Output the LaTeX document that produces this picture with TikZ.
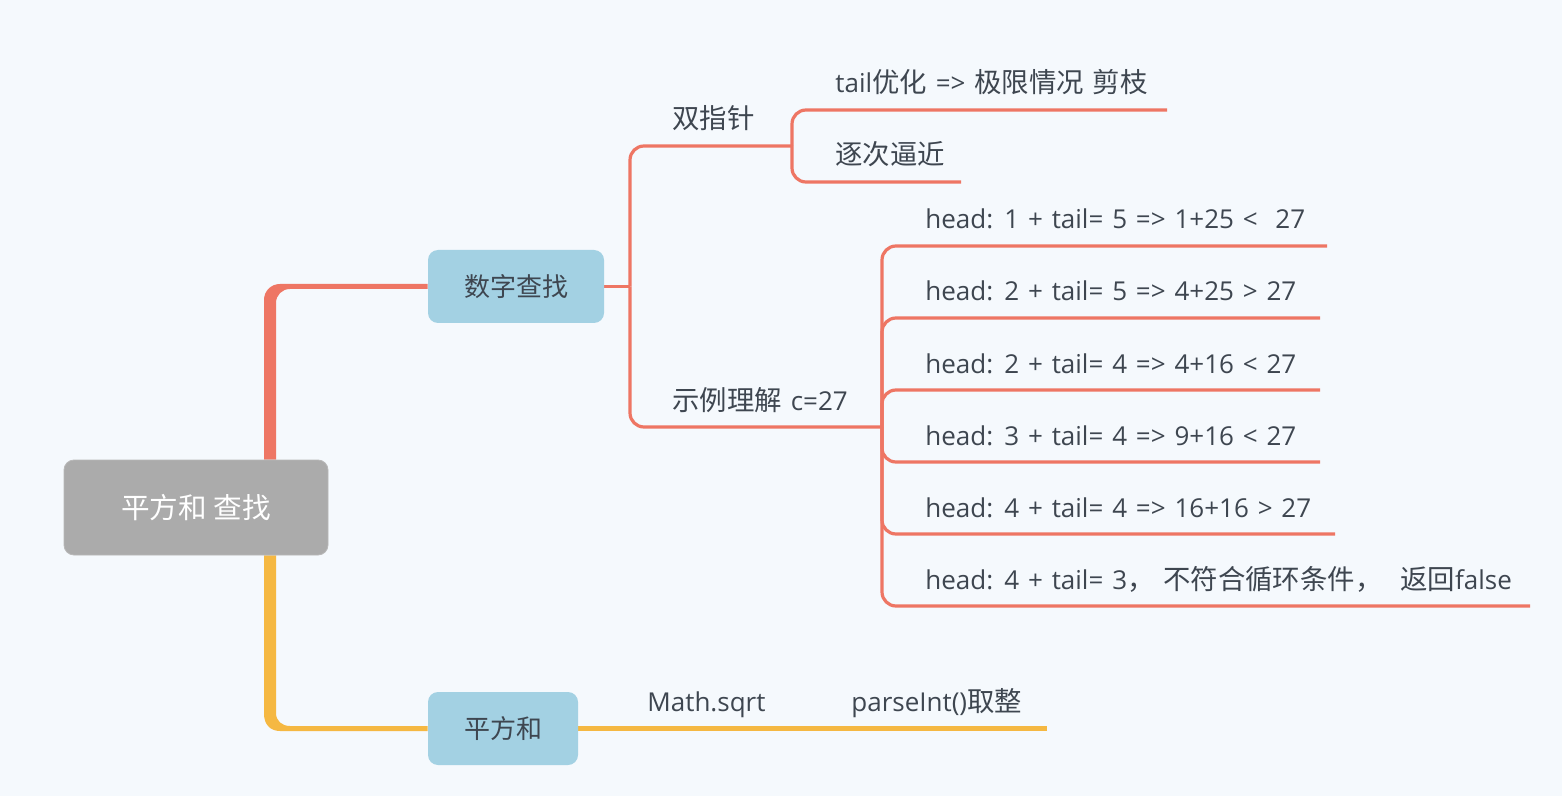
\documentclass[tikz,border=0pt]{standalone}
\usepackage{fontspec}
\setmainfont{Open Sans}
\newfontfamily\cjkfont{Noto Sans CJK SC}
\usetikzlibrary{backgrounds}
\definecolor{bg}{HTML}{F5F9FD}
\definecolor{redl}{HTML}{EE7664}
\definecolor{yell}{HTML}{F5B842}
\definecolor{blu}{HTML}{A3D1E3}
\definecolor{gry}{HTML}{ABABAB}
\definecolor{txt}{HTML}{3E4650}
\newcommand\zh[1]{{\cjkfont\fontsize{13.7pt}{16pt}\selectfont #1}}
\newcommand\zht[1]{{\cjkfont #1}}
\newcommand\widesp{\spaceskip=0.34em plus 0.1em\relax}
\begin{document}
\begin{tikzpicture}[x=0.5pt,y=-0.5pt,
  lbl/.style={anchor=base west, inner sep=0pt, text=txt,
    font=\fontsize{13pt}{16pt}\selectfont\widesp},
  topic/.style={rounded corners=5pt, fill=blu, text=txt, inner sep=0pt,
    minimum height=36.5pt, font=\fontsize{13pt}{16pt}\selectfont},
  rootbox/.style={rounded corners=5pt, fill=gry, draw=gry!85!white, line width=0.4pt,
    text=white, inner sep=0pt, minimum width=132pt, minimum height=47.5pt,
    font=\fontsize{14.3pt}{17pt}\selectfont},
  redln/.style={draw=redl, line width=1.6pt, rounded corners=7pt},
  yelln/.style={draw=yell, line width=2.3pt}]
\useasboundingbox (0,0) rectangle (1562,796);

% nodes
\node[rootbox] (root) at (196,507.5) {\zht{平方和 查找}};
\node[topic, minimum width=88pt] (szcz) at (516,286.5) {\zht{数字查找}};
\node[topic, minimum width=75pt] (pfh) at (503,728.5) {\zht{平方和}};

\node[lbl] (szz) at (672,129) {\zh{双指针}};
\node[lbl] (tail) at (835,93) {tail\zh{优化} => \zh{极限情况} \zh{剪枝}};
\node[lbl] (zcbj) at (835,165) {\zh{逐次逼近}};
\node[lbl] (slj) at (672,410) {\zh{示例理解} c=27};
\node[lbl] (r1) at (925,229) {head: 1 + tail= 5 => 1+25 <\ \ 27};
\node[lbl] (r2) at (925,301) {head: 2 + tail= 5 => 4+25 > 27};
\node[lbl] (r3) at (925,373) {head: 2 + tail= 4 => 4+16 < 27};
\node[lbl] (r4) at (925,445) {head: 3 + tail= 4 => 9+16 < 27};
\node[lbl] (r5) at (925,517) {head: 4 + tail= 4 => 16+16 > 27};
\node[lbl] (r6) at (925,589) {head: 4 + tail= 3\zh{，}\ \zh{不符合循环条件，}\ \ \zh{返回}false};
\node[lbl] (math) at (647,711) {Math.sqrt};
\node[lbl] (parse) at (851,711) {parseInt()\zh{取整}};

% junction / end coordinates
\coordinate (j1) at (630,286.5);
\coordinate (b1) at (792,146);
\coordinate (b2) at (882,427);
\coordinate (e11) at (1167,110);
\coordinate (e12) at (961,182);
\coordinate (e21) at (1327,246);
\coordinate (e22) at (1320,318);
\coordinate (e23) at (1320,390);
\coordinate (e24) at (1320,462);
\coordinate (e25) at (1335,534);
\coordinate (e26) at (1530,606);
\coordinate (y1) at (830,728.5);
\coordinate (y2) at (1047,728.5);

\begin{scope}[on background layer]
\fill[bg] (0,0) rectangle (1562,796);
% thick main branches
\fill[redl] (root.north -| 264,0) -- (264,300) .. controls (264,291) and (271,284) .. (280,284)
  -- (szcz.west |- 0,284) -- (szcz.west |- 0,289) -- (290,289)
  .. controls (282,289) and (276,295) .. (276,303) -- (root.north -| 276,0) -- cycle;
\fill[yell] (root.south -| 264,0) -- (264,714) .. controls (264,724) and (270,731) .. (280,731)
  -- (pfh.west |- 0,731) -- (pfh.west |- 0,726) -- (290,726)
  .. controls (282,726) and (276,721) .. (276,713) -- (root.south -| 276,0) -- cycle;
% red connectors
\draw[redln] (szcz.east) -- (j1);
\draw[redln] (j1) |- (b1);
\draw[redln] (j1) |- (b2);
\draw[redln] (b1) |- (e11);
\draw[redln] (b1) |- (e12);
\foreach \e in {e21,e22,e23,e24,e25,e26} \draw[redln] (b2) |- (\e);
% yellow connectors
\draw[yelln] (pfh.east) -- (y1) -- (y2);
\end{scope}
\end{tikzpicture}
\end{document}
